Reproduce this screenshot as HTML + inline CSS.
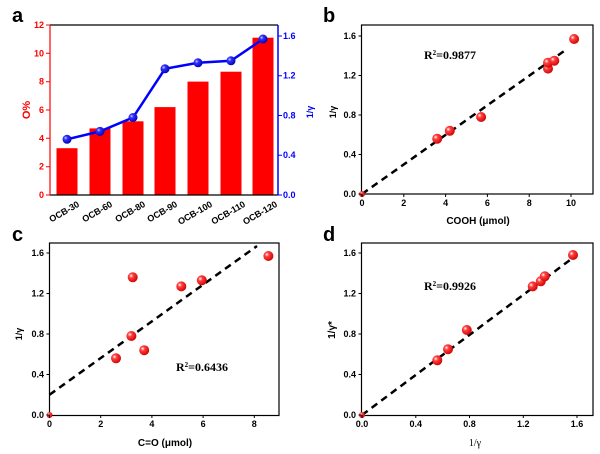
<!DOCTYPE html>
<html><head><meta charset="utf-8"><style>
body{margin:0;background:#fff}
svg{display:block;font-family:"Liberation Sans",sans-serif}
.t{font-size:9px;font-weight:bold}
.lbl{font-size:20px;font-weight:bold}
.r2{font-family:"Liberation Serif",serif;font-weight:bold;font-size:12px}
</style></head><body>
<svg width="600" height="454" viewBox="0 0 600 454" xmlns="http://www.w3.org/2000/svg">
<defs>
<radialGradient id="rg" cx="0.35" cy="0.35" r="0.7"><stop offset="0" stop-color="#fff"/><stop offset="0.3" stop-color="#ff4040"/><stop offset="1" stop-color="#d00000"/></radialGradient>
<radialGradient id="bg" cx="0.35" cy="0.35" r="0.7"><stop offset="0" stop-color="#ccf"/><stop offset="0.3" stop-color="#3030ff"/><stop offset="1" stop-color="#0000b0"/></radialGradient>
</defs>
<!-- Panel a -->
<text x="12" y="22" class="lbl">a</text>
<g fill="#ff0000">
<rect x="56.5" y="148.2" width="21" height="46.8"/>
<rect x="89.5" y="128.4" width="21" height="66.6"/>
<rect x="122.5" y="121.3" width="21" height="73.7"/>
<rect x="154.5" y="107.1" width="21" height="87.9"/>
<rect x="187.5" y="81.6" width="21" height="113.4"/>
<rect x="220.5" y="71.7" width="21" height="123.3"/>
<rect x="252.5" y="37.7" width="21" height="157.3"/>
</g>
<polyline points="67,139.3 100,131.4 133,117.5 165,68.8 198,62.8 231,60.8 263,39" fill="none" stroke="#0000ff" stroke-width="2.5"/>
<g fill="url(#bg)">
<circle cx="67" cy="139.3" r="4.5"/><circle cx="100" cy="131.4" r="4.5"/><circle cx="133" cy="117.5" r="4.5"/><circle cx="165" cy="68.8" r="4.5"/><circle cx="198" cy="62.8" r="4.5"/><circle cx="231" cy="60.8" r="4.5"/><circle cx="263" cy="39" r="4.5"/>
</g>
<line x1="50" y1="25" x2="278" y2="25" stroke="#000" stroke-width="1.2"/>
<line x1="50" y1="195" x2="278" y2="195" stroke="#000" stroke-width="1.2"/>
<line x1="50" y1="25" x2="50" y2="195" stroke="#ff0000" stroke-width="1.2"/>
<line x1="278" y1="25" x2="278" y2="195" stroke="#0000ff" stroke-width="1.5"/>
<g stroke="#ff0000"><path d="M50 195h-4M50 166.7h-4M50 138.3h-4M50 110h-4M50 81.7h-4M50 53.3h-4M50 25h-4"/></g>
<g fill="#ff0000" class="t" text-anchor="end">
<text x="44" y="198">0</text><text x="44" y="169.7">2</text><text x="44" y="141.3">4</text><text x="44" y="113">6</text><text x="44" y="84.7">8</text><text x="44" y="56.3">10</text><text x="44" y="28">12</text>
</g>
<text transform="translate(30,110) rotate(-90)" fill="#ff0000" font-size="11" font-weight="bold" text-anchor="middle">O%</text>
<g stroke="#0000ff"><path d="M278 195h4M278 155.25h4M278 115.5h4M278 75.75h4M278 36h4"/></g>
<g fill="#0000ff" class="t">
<text x="283" y="198">0.0</text><text x="283" y="158">0.4</text><text x="283" y="118.5">0.8</text><text x="283" y="78.7">1.2</text><text x="283" y="39">1.6</text>
</g>
<text transform="translate(313,112) rotate(-90)" fill="#0000ff" font-size="9" font-weight="bold" text-anchor="middle">1/γ</text>
<g class="t" font-size="8" text-anchor="end">
<text transform="translate(80,206) rotate(-30)">OCB-30</text>
<text transform="translate(113,206) rotate(-30)">OCB-60</text>
<text transform="translate(146,206) rotate(-30)">OCB-80</text>
<text transform="translate(178,206) rotate(-30)">OCB-90</text>
<text transform="translate(213,206) rotate(-30)">OCB-100</text>
<text transform="translate(246,206) rotate(-30)">OCB-110</text>
<text transform="translate(278,206) rotate(-30)">OCB-120</text>
</g>

<!-- Panel b -->
<text x="323" y="22" class="lbl">b</text>
<rect x="361.5" y="25" width="231.5" height="169" fill="none" stroke="#000" stroke-width="1.2"/>
<line x1="362" y1="194" x2="567" y2="49" stroke="#000" stroke-width="2.5" stroke-dasharray="7,5"/>
<g fill="url(#rg)">
<circle cx="362" cy="194" r="3"/>
<circle cx="437.2" cy="138.7" r="5"/><circle cx="449.8" cy="130.8" r="5"/><circle cx="481.1" cy="117" r="5"/><circle cx="548" cy="68.6" r="5"/><circle cx="548" cy="62.7" r="5"/><circle cx="554.3" cy="60.7" r="5"/><circle cx="574.1" cy="39" r="5"/>
</g>
<g stroke="#000"><path d="M362 194v3M403.8 194v3M445.6 194v3M487.4 194v3M529.2 194v3M571 194v3M361.5 194h-3M361.5 154.5h-3M361.5 115h-3M361.5 75.5h-3M361.5 36h-3"/></g>
<g class="t" text-anchor="middle">
<text x="362" y="206">0</text><text x="403.8" y="206">2</text><text x="445.6" y="206">4</text><text x="487.4" y="206">6</text><text x="529.2" y="206">8</text><text x="571" y="206">10</text>
</g>
<g class="t" text-anchor="end">
<text x="356" y="197">0.0</text><text x="356" y="157.5">0.4</text><text x="356" y="118">0.8</text><text x="356" y="78.5">1.2</text><text x="356" y="39">1.6</text>
</g>
<text transform="translate(336,112) rotate(-90)" font-size="9" font-weight="bold" text-anchor="middle">1/γ</text>
<text x="478" y="224" font-size="10" font-weight="bold" text-anchor="middle">COOH (μmol)</text>
<text x="424" y="59" class="r2">R<tspan font-size="7" dy="-4">2</tspan><tspan dy="4">=0.9877</tspan></text>

<!-- Panel c -->
<text x="12" y="241" class="lbl">c</text>
<rect x="49.5" y="243" width="229.5" height="172.5" fill="none" stroke="#000" stroke-width="1.2"/>
<line x1="49.5" y1="394.75" x2="257" y2="246" stroke="#000" stroke-width="2.5" stroke-dasharray="7,5"/>
<g fill="url(#rg)">
<circle cx="49.5" cy="415" r="3"/>
<circle cx="116" cy="358.3" r="5"/><circle cx="131.4" cy="336" r="5"/><circle cx="132.7" cy="277.3" r="5"/><circle cx="144.2" cy="350.2" r="5"/><circle cx="181.3" cy="286.4" r="5"/><circle cx="201.8" cy="280.3" r="5"/><circle cx="268.4" cy="256" r="5"/>
</g>
<g stroke="#000"><path d="M49.5 415v3M100.7 415v3M151.9 415v3M203.1 415v3M254.3 415v3M49.5 415h-3M49.5 374.5h-3M49.5 334h-3M49.5 293.5h-3M49.5 253h-3"/></g>
<g class="t" text-anchor="middle">
<text x="49.5" y="427">0</text><text x="100.7" y="427">2</text><text x="151.9" y="427">4</text><text x="203.1" y="427">6</text><text x="254.3" y="427">8</text>
</g>
<g class="t" text-anchor="end">
<text x="44" y="418">0.0</text><text x="44" y="377.5">0.4</text><text x="44" y="337">0.8</text><text x="44" y="296.5">1.2</text><text x="44" y="256">1.6</text>
</g>
<text transform="translate(22,334) rotate(-90)" font-size="9" font-weight="bold" text-anchor="middle">1/γ</text>
<text x="165" y="446" font-size="10" font-weight="bold" text-anchor="middle">C=O (μmol)</text>
<text x="176" y="371" class="r2">R<tspan font-size="7" dy="-4">2</tspan><tspan dy="4">=0.6436</tspan></text>

<!-- Panel d -->
<text x="323" y="241" class="lbl">d</text>
<rect x="361.5" y="243" width="231.5" height="172.5" fill="none" stroke="#000" stroke-width="1.2"/>
<line x1="362" y1="415" x2="570" y2="260" stroke="#000" stroke-width="2.5" stroke-dasharray="7,5"/>
<g fill="url(#rg)">
<circle cx="362" cy="415" r="3"/>
<circle cx="437.3" cy="360.3" r="5"/><circle cx="448" cy="349.2" r="5"/><circle cx="466.8" cy="330" r="5"/><circle cx="532.7" cy="286.4" r="5"/><circle cx="540.8" cy="281.3" r="5"/><circle cx="544.8" cy="276.3" r="5"/><circle cx="573" cy="255" r="5"/>
</g>
<g stroke="#000"><path d="M362 415v3M415.8 415v3M469.5 415v3M523.3 415v3M577 415v3M361.5 415h-3M361.5 374.5h-3M361.5 334h-3M361.5 293.5h-3M361.5 253h-3"/></g>
<g class="t" text-anchor="middle">
<text x="362" y="427">0.0</text><text x="415.8" y="427">0.4</text><text x="469.5" y="427">0.8</text><text x="523.3" y="427">1.2</text><text x="577" y="427">1.6</text>
</g>
<g class="t" text-anchor="end">
<text x="356" y="418">0.0</text><text x="356" y="377.5">0.4</text><text x="356" y="337">0.8</text><text x="356" y="296.5">1.2</text><text x="356" y="256">1.6</text>
</g>
<text transform="translate(335,330) rotate(-90)" font-size="10" font-weight="bold" text-anchor="middle">1/γ*</text>
<text x="475" y="446" font-family="Liberation Serif,serif" font-size="10" text-anchor="middle">1/γ</text>
<text x="424" y="290" class="r2">R<tspan font-size="7" dy="-4">2</tspan><tspan dy="4">=0.9926</tspan></text>
</svg>
</body></html>
